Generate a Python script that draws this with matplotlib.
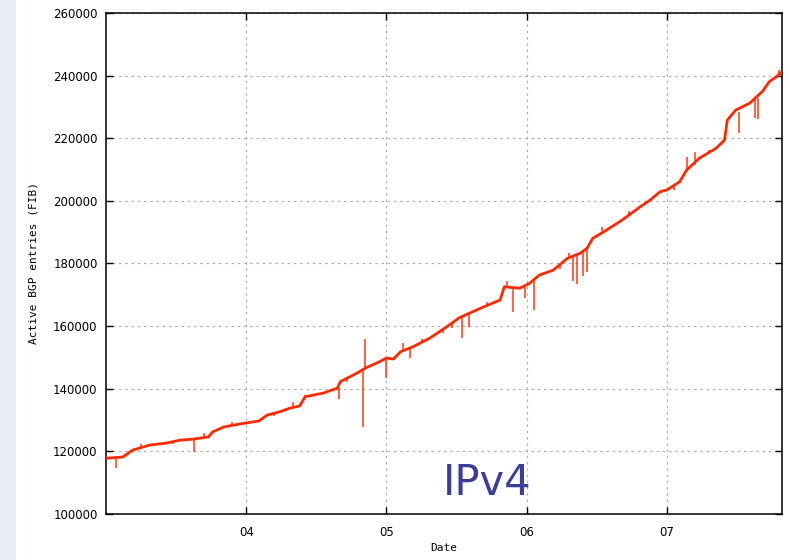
import matplotlib
matplotlib.use("Agg")
import matplotlib.pyplot as plt
from matplotlib.patches import Rectangle

# date as fractional year (3.0 = Jan 2003), active FIB entries
dates = [3.00, 3.06, 3.12, 3.19, 3.31, 3.43, 3.53, 3.62, 3.73, 3.76, 3.84, 3.96,
         4.09, 4.15, 4.24, 4.31, 4.38, 4.42, 4.55, 4.65, 4.67, 4.79, 4.85, 4.95,
         5.00, 5.05, 5.10, 5.19, 5.31, 5.43, 5.52, 5.67, 5.81, 5.84, 5.95, 6.02,
         6.09, 6.19, 6.29, 6.38, 6.43, 6.47, 6.57, 6.68, 6.81, 6.88, 6.95, 7.00,
         7.09, 7.14, 7.23, 7.35, 7.41, 7.43, 7.49, 7.59, 7.64, 7.68, 7.73, 7.78,
         7.82]
entries = [117800, 118000, 118200, 120400, 122000, 122650, 123600, 123900, 124600, 126200, 127800, 128800,
           129700, 131600, 132650, 133800, 134480, 137450, 138630, 140200, 142240, 145000, 146600, 148620,
           149800, 149500, 151820, 153420, 156200, 159800, 162700, 165700, 168330, 172580, 172100, 173670,
           176300, 177900, 181650, 183250, 184850, 188000, 190700, 193880, 198130, 200270, 202900, 203500,
           206100, 209850, 213600, 216800, 219400, 225800, 229000, 231200, 233300, 234900, 238100, 239650,
           241200]

# short outages / glitches: date, level before, spike tip
spike_dates = [3.07, 3.63, 3.70, 4.33, 4.42, 4.66, 4.83, 4.85, 5.00, 5.12, 5.17, 5.40,
               5.54, 5.59, 5.90, 5.99, 6.05, 6.33, 6.36, 6.40, 6.43, 6.54, 7.14, 7.20,
               7.40, 7.51, 7.63, 7.65, 7.80,
               3.25, 3.48, 3.90, 4.20, 4.72, 5.25, 5.47, 5.72, 5.86, 6.24, 6.30, 6.73, 7.05, 7.30]
spike_base = [118000, 123900, 124300, 133900, 137000, 140300, 146200, 146600, 149800, 152200, 153000, 159300,
              162800, 163900, 172300, 172400, 174400, 182300, 182900, 184000, 184800, 190300, 209500, 211600,
              219000, 228500, 232500, 232800, 240500,
              121200, 123200, 128300, 132300, 143500, 154800, 161000, 166700, 172500, 179800, 181800, 195600, 204800, 215200]
spike_tip = [114700, 119800, 126000, 135800, 138100, 136700, 127900, 155800, 143300, 154600, 149700, 157700,
             156200, 159800, 164600, 168900, 165100, 174500, 173400, 176000, 177400, 191500, 214100, 215700,
             218900, 221800, 226400, 226000, 241900,
             122300, 122200, 129400, 131200, 142000, 156000, 159500, 167800, 174300, 178300, 183200, 196800, 203600, 216400]

yticks = [100000, 120000, 140000, 160000, 180000, 200000, 220000, 240000, 260000]
xticks = [4, 5, 6, 7]
xticklabels = ["04", "05", "06", "07"]

fig = plt.figure(figsize=(7.9, 5.6), dpi=100)
fig.patch.set_facecolor("white")
# pale blue strip at the left edge of the slide
fig.patches.append(Rectangle((0, 0), 16 / 790, 1, transform=fig.transFigure,
                             facecolor="#e6eef6", edgecolor="none", zorder=0))

ax = fig.add_axes([106 / 790, 1 - 514 / 560, 676 / 790, 501 / 560])

line_color = "#ff2a00"
ax.plot(dates, entries, color=line_color, lw=2.0, zorder=3)
ax.vlines(spike_dates, spike_base, spike_tip, color=line_color, lw=1.2, alpha=0.85, zorder=3)

ax.set_xlim(3.0, 7.82)
ax.set_ylim(100000, 260000)
ax.set_yticks(yticks)
ax.set_yticklabels([str(v) for v in yticks])
ax.set_xticks(xticks)
ax.set_xticklabels(xticklabels)

ax.grid(True, color="#b0b0b0", linestyle=(0, (2, 3)), lw=0.9)
ax.set_axisbelow(True)
ax.tick_params(direction="in", length=5, width=1, top=True, right=True,
               labelsize=8.5, colors="black")
ax.tick_params(axis="y", pad=6)
ax.tick_params(axis="x", pad=9)
for s in ax.spines.values():
    s.set_linewidth(1.1)

ax.set_ylabel("Active BGP entries (FIB)", fontsize=8, family="DejaVu Sans Mono")
ax.set_xlabel("Date", fontsize=8, family="DejaVu Sans Mono")
ax.yaxis.set_label_coords(-0.100, 0.5)
ax.xaxis.set_label_coords(0.5, -0.058)

ax.text(0.5636, 0.062, "IPv4", transform=ax.transAxes, ha="center", va="center",
        fontsize=30, color="#3d3d99")

fig.savefig("out.png", dpi=100)
